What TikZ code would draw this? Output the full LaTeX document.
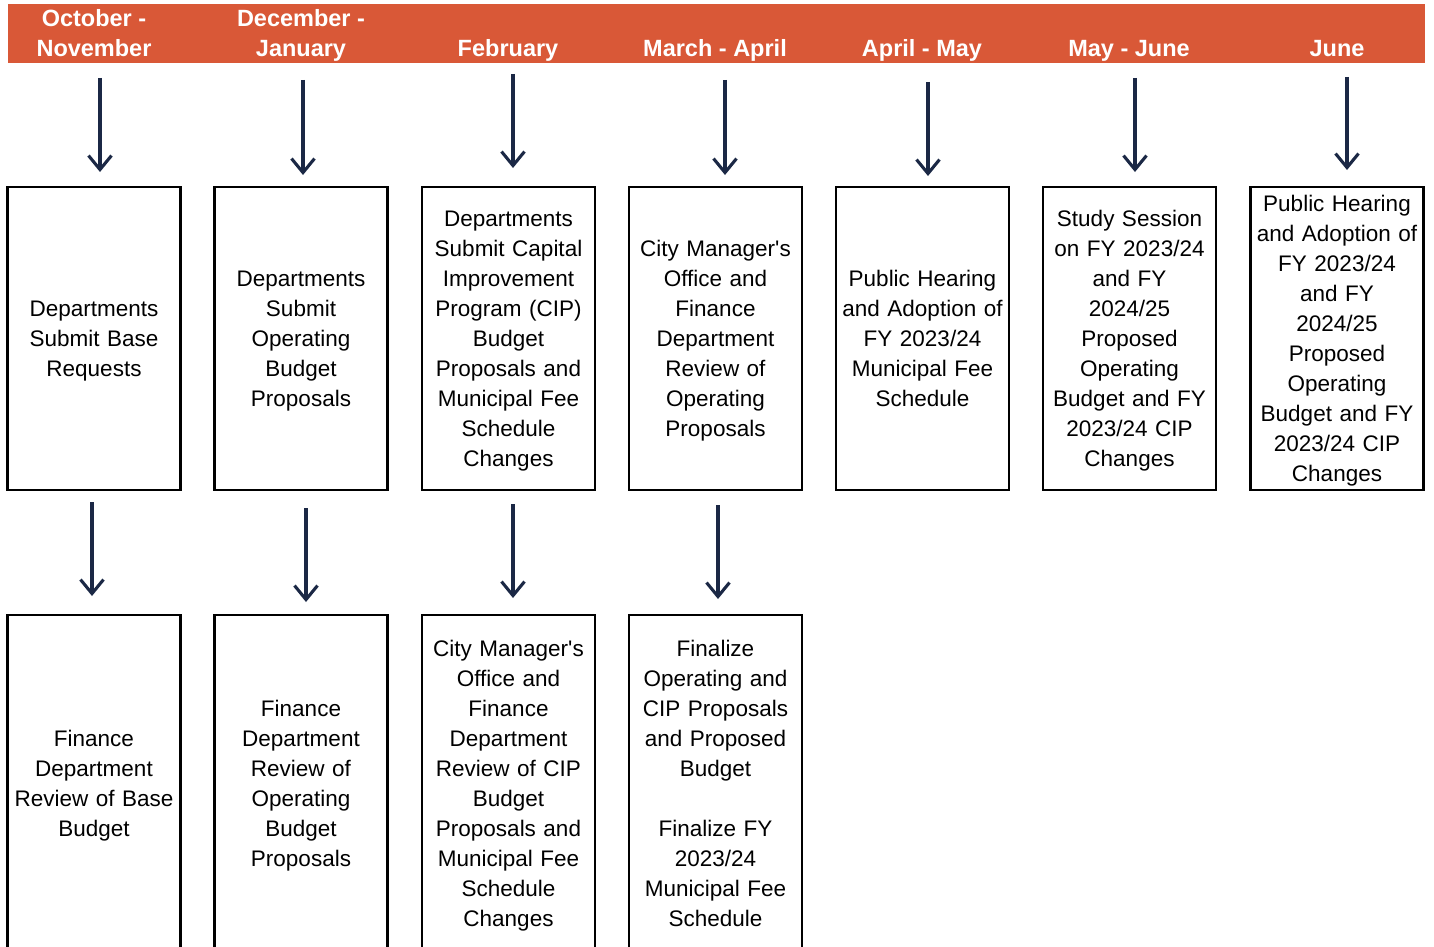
\documentclass[tikz,border=0pt]{standalone}
\usepackage{fontspec}
\setmainfont{Liberation Sans}
\usetikzlibrary{arrows.meta}
\definecolor{hdr}{HTML}{D95837}
\definecolor{navy}{HTML}{1B2845}
\newcommand{\lnstrut}{\rule[-7pt]{0pt}{30pt}}
\begin{document}
\begin{tikzpicture}[x=1pt,y=-1pt,
  box/.style={draw=black,line width=2.4pt,minimum width=173pt,inner sep=0pt,align=center,text width=170pt,font=\fontsize{22.5}{30}\selectfont,
    execute at begin node={\lnstrut},execute at end node={\lnstrut}},
  topbox/.style={box,minimum height=303pt},
  botbox/.style={box,minimum height=336pt},
  hlabel/.style={anchor=south,inner sep=0pt,align=center,text=white,font=\bfseries\fontsize{23.5}{30}\selectfont},
  flow/.style={draw=navy,line width=3.1pt,-{Straight Barb[length=14pt,width=23pt]}}]
\useasboundingbox (0,0) rectangle (1434,947);
\fill[hdr] (8,4) rectangle (1425,63);
% headers
\node[hlabel] (h1) at (94,66) {October -\\November\strut};
\node[hlabel] (h2) at (301,66) {December -\\January\strut};
\node[hlabel] (h3) at (508,66) {February\strut};
\node[hlabel] (h4) at (715,66) {March - April\strut};
\node[hlabel] (h5) at (922,66) {April - May\strut};
\node[hlabel] (h6) at (1129,66) {May - June\strut};
\node[hlabel] (h7) at (1337,66) {June\strut};
% top boxes
\node[topbox] (t1) at (94,338.5) {Departments\\Submit Base\\Requests};
\node[topbox] (t2) at (301,338.5) {Departments\\Submit\\Operating\\Budget\\Proposals};
\node[topbox] (t3) at (508.5,338.5) {Departments\\Submit Capital\\Improvement\\Program (CIP)\\Budget\\Proposals and\\Municipal Fee\\Schedule\\Changes};
\node[topbox] (t4) at (715.5,338.5) {City Manager\textquotesingle s\\Office and\\Finance\\Department\\Review of\\Operating\\Proposals};
\node[topbox] (t5) at (922.5,338.5) {Public Hearing\\and Adoption of\\FY 2023/24\\Municipal Fee\\Schedule};
\node[topbox] (t6) at (1129.5,338.5) {Study Session\\on FY 2023/24\\and FY\\2024/25\\Proposed\\Operating\\Budget and FY\\2023/24 CIP\\Changes};
\node[topbox] (t7) at (1337,338.5) {Public Hearing\\and Adoption of\\FY 2023/24\\and FY\\2024/25\\Proposed\\Operating\\Budget and FY\\2023/24 CIP\\Changes};
% bottom boxes
\node[botbox] (b1) at (94,783) {Finance\\Department\\Review of Base\\Budget};
\node[botbox] (b2) at (301,783) {Finance\\Department\\Review of\\Operating\\Budget\\Proposals};
\node[botbox] (b3) at (508.5,783) {City Manager\textquotesingle s\\Office and\\Finance\\Department\\Review of CIP\\Budget\\Proposals and\\Municipal Fee\\Schedule\\Changes};
\node[botbox] (b4) at (715.5,783) {Finalize\\Operating and\\CIP Proposals\\and Proposed\\Budget\\[30pt]Finalize FY\\2023/24\\Municipal Fee\\Schedule};
% arrow end points
\coordinate (s1) at (100,78);   \coordinate (e1) at (100,172);
\coordinate (s2) at (303,80);   \coordinate (e2) at (303,175);
\coordinate (s3) at (513,74);   \coordinate (e3) at (513,168);
\coordinate (s4) at (725,80);   \coordinate (e4) at (725,175);
\coordinate (s5) at (928,82);   \coordinate (e5) at (928,176);
\coordinate (s6) at (1135,78);  \coordinate (e6) at (1135,172);
\coordinate (s7) at (1347,77);  \coordinate (e7) at (1347,170);
\coordinate (u1) at (92,502);   \coordinate (v1) at (92,596);
\coordinate (u2) at (306,508);  \coordinate (v2) at (306,602);
\coordinate (u3) at (513,504);  \coordinate (v3) at (513,598);
\coordinate (u4) at (718,505);  \coordinate (v4) at (718,599);
\foreach \i in {1,...,7} {\draw[flow] (s\i) -- (e\i);}
\foreach \i in {1,...,4} {\draw[flow] (u\i) -- (v\i);}
\end{tikzpicture}
\end{document}
